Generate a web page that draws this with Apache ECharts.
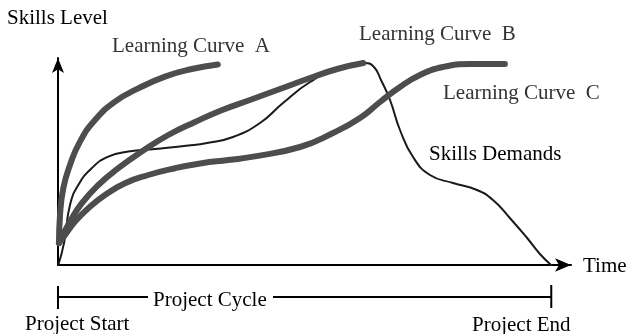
<!DOCTYPE html>
<html>
<head>
<meta charset="utf-8">
<script src="https://cdn.jsdelivr.net/npm/echarts@6/dist/echarts.min.js"></script>
<style>
  html, body { margin: 0; padding: 0; background: #fff; }
  #main { width: 628px; height: 334px; }
</style>
</head>
<body>
<div id="main"></div>
<script>
// time: 0 = project start, 100 = project end; level: 0..100
var curveA = [[0.2, 11], [0.41, 25], [1.07, 38.3], [2.43, 50], [4.46, 61.7], [7.5, 72.5], [11.56, 81.7], [16.28, 88.3], [21.69, 94.2], [27.1, 98], [32.4, 100.3]];
var curveB = [[0.2, 11], [2.43, 21.7], [4.8, 30.8], [8.17, 40], [12.22, 48.4], [16.97, 56.7], [22.36, 65], [27.77, 71.5], [33.3, 77.5], [38.9, 82.5], [45, 88], [51.1, 93.5], [56.6, 98], [61.9, 101]];
var curveC = [[0.2, 11], [1.42, 15], [3.45, 21.7], [6.14, 28.4], [9.53, 35], [13.58, 40.9], [18.31, 45], [23.72, 48.4], [29.13, 50.9], [34.53, 52.5], [39.6, 54.2], [49.06, 59], [55.75, 66], [61.22, 73.5], [65.28, 81.5], [69.33, 89], [73.39, 95], [78.05, 99], [83.53, 100.5], [90.6, 100.5]];
var demands = [[0.06, 0], [1.28, 11.7], [2.43, 30], [4.12, 40], [6.83, 48.4], [10.2, 54.2], [14.25, 56.7], [19.66, 58], [26.41, 59.7], [30.2, 61], [35.48, 64], [40.95, 71], [45.61, 81], [51.09, 91.5], [57.17, 99], [62.24, 101], [64.06, 99], [65.48, 92.5], [67.31, 82.5], [69.33, 67.5], [71.97, 54], [75.41, 45], [80.08, 41], [84.94, 37.5], [88.19, 32.5], [91.6, 23.5], [95.1, 13.5], [97.7, 5.5], [99.95, 0]];

var labels = [
  { text: 'Skills Level', x: 7, y: 18, color: '#000' },
  { text: 'Learning Curve  A', x: 112, y: 46, color: '#333' },
  { text: 'Learning Curve  B', x: 359, y: 34, color: '#333' },
  { text: 'Learning Curve  C', x: 443, y: 93.5, color: '#333' },
  { text: 'Skills Demands', x: 429, y: 154.5, color: '#000' },
  { text: 'Time', x: 583, y: 266.5, color: '#000' },
  { text: 'Project Start', x: 25, y: 324.5, color: '#000' },
  { text: 'Project End', x: 472, y: 325.5, color: '#000' }
];

var FONT = '21px "Liberation Serif", "Times New Roman", serif';
var thick = '#4d4d4d';

var chart = echarts.init(document.getElementById('main'), null, { renderer: 'canvas' });

function lineSeries(name, data, width, color) {
  return {
    name: name,
    type: 'line',
    data: data,
    smooth: 0.5,
    showSymbol: false,
    symbol: 'none',
    lineStyle: { width: width, color: color, cap: 'round', join: 'round' },
    silent: true
  };
}

chart.setOption({
  animation: false,
  grid: { left: 58, top: 58, width: 513, height: 207 },
  xAxis: {
    type: 'value', min: 0, max: 104,
    axisLine: { lineStyle: { color: '#000', width: 2 }, symbol: ['none', 'arrow'], symbolSize: [10, 16] },
    axisTick: { show: false }, axisLabel: { show: false }, splitLine: { show: false }
  },
  yAxis: {
    type: 'value', min: 0, max: 103.5,
    axisLine: { show: true, lineStyle: { color: '#000', width: 2 }, symbol: ['none', 'arrow'], symbolSize: [9, 15] },
    axisTick: { show: false }, axisLabel: { show: false }, splitLine: { show: false }
  },
  series: [
    lineSeries('Skills Demands', demands, 2, '#1a1a1a'),
    lineSeries('Learning Curve A', curveA, 6, thick),
    lineSeries('Learning Curve B', curveB, 6, thick),
    lineSeries('Learning Curve C', curveC, 6, thick)
  ]
});

// project cycle bracket, tied to the time axis
var xs = chart.convertToPixel({ xAxisIndex: 0 }, 0);
var xe = chart.convertToPixel({ xAxisIndex: 0 }, 100);
var by = 297;
var graphics = [
  { type: 'line', shape: { x1: xs, y1: by, x2: 148, y2: by }, style: { stroke: '#000', lineWidth: 2 } },
  { type: 'line', shape: { x1: 273, y1: by, x2: xe, y2: by }, style: { stroke: '#000', lineWidth: 2 } },
  { type: 'line', shape: { x1: xs, y1: 286, x2: xs, y2: 309 }, style: { stroke: '#000', lineWidth: 2 } },
  { type: 'line', shape: { x1: xe, y1: 285, x2: xe, y2: 308 }, style: { stroke: '#000', lineWidth: 2 } },
  { type: 'text', x: 153, y: 300.5, style: { text: 'Project Cycle', font: FONT, fill: '#000', verticalAlign: 'middle' } }
];
labels.forEach(function(l) {
  graphics.push({ type: 'text', x: l.x, y: l.y, style: { text: l.text, font: FONT, fill: l.color, verticalAlign: 'middle' } });
});
chart.setOption({ graphic: graphics });
</script>
</body>
</html>
